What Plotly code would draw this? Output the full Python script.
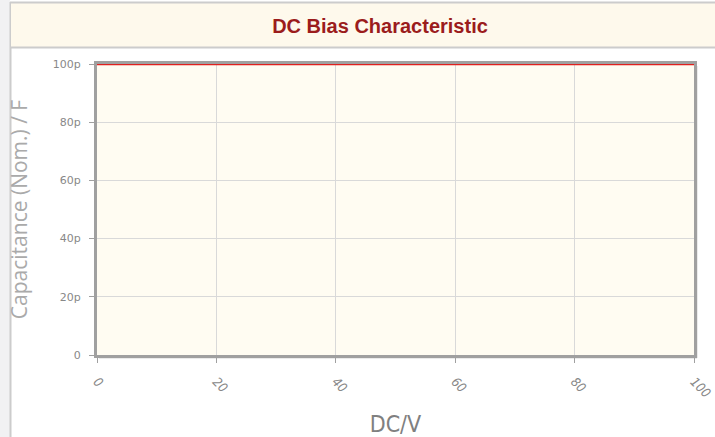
import plotly.graph_objects as go

# Data
dc_voltage = [0, 100]
capacitance_pf = [100, 100]

x_ticks = [0, 20, 40, 60, 80, 100]
y_ticks = [0, 20, 40, 60, 80, 100]
y_tick_labels = ["0", "20p", "40p", "60p", "80p", "100p"]

W, H = 715, 437
L, R, T, B = 97, 21, 64, 82
pw, ph = W - L - R, H - T - B

def px(x):
    return (x - L) / pw

def py(y):
    return (H - B - y) / ph

fig = go.Figure()
fig.add_trace(go.Scatter(
    x=dc_voltage, y=capacitance_pf, mode="lines",
    line=dict(color="#E0201F", width=2.5), showlegend=False, cliponaxis=False,
))

shapes = [
    # left page strip
    dict(type="rect", xref="paper", yref="paper", x0=px(0), x1=px(10), y0=py(H), y1=py(0),
         fillcolor="#F1F1F3", line=dict(width=0), layer="below"),
    # left border line
    dict(type="line", xref="paper", yref="paper", x0=px(10.5), x1=px(10.5), y0=py(H), y1=py(2),
         line=dict(color="#CCCCCC", width=2), layer="below"),
    # title bar
    dict(type="rect", xref="paper", yref="paper", x0=px(11), x1=px(W + 2), y0=py(47), y1=py(3),
         fillcolor="#FEF9EC", line=dict(width=0), layer="below"),
    dict(type="line", xref="paper", yref="paper", x0=px(10), x1=px(W + 2), y0=py(2.5), y1=py(2.5),
         line=dict(color="#CCCCCC", width=2), layer="below"),
    dict(type="line", xref="paper", yref="paper", x0=px(10), x1=px(W + 2), y0=py(47.5), y1=py(47.5),
         line=dict(color="#CCCCCC", width=2), layer="below"),
    # plot shadow
    dict(type="line", xref="paper", yref="paper", x0=px(L + 2), x1=px(L + pw + 3), y0=py(H - B + 2.5), y1=py(H - B + 2.5),
         line=dict(color="#D8D8D8", width=2), layer="below"),
    dict(type="line", xref="paper", yref="paper", x0=px(L + pw + 2.5), x1=px(L + pw + 2.5), y0=py(T + 2), y1=py(H - B + 3),
         line=dict(color="#D8D8D8", width=2), layer="below"),
]

fig.update_layout(
    width=W, height=H,
    margin=dict(l=L, r=R, t=T, b=B, autoexpand=False),
    paper_bgcolor="#FFFFFF",
    plot_bgcolor="#FFFCF2",
    shapes=shapes,
    title=dict(text="<b>DC Bias Characteristic</b>", xref="container", x=380 / W, xanchor="center",
               y=1 - 25.5 / H, yanchor="middle",
               font=dict(family="Liberation Sans, Arial", size=20, color="#9B1C1C")),
    xaxis=dict(
        range=[0, 100], tickvals=x_ticks, ticktext=[f"<i>{v}</i>" for v in x_ticks],
        tickangle=45, tickfont=dict(family="DejaVu Sans Condensed, DejaVu Sans", size=13, color="#888888"),
        showgrid=True, gridcolor="#D9D9D9", gridwidth=1,
        showline=True, linecolor="#A0A0A0", linewidth=3, mirror=True,
        ticks="outside", ticklen=5, tickcolor="#A0A0A0", tickwidth=1,
        zeroline=False, automargin=False, ticklabelstandoff=6,
        title=dict(text="DC/V", font=dict(family="DejaVu Sans Condensed, DejaVu Sans", size=23, color="#808080"),
                   standoff=18),
    ),
    yaxis=dict(
        range=[0, 100], tickvals=y_ticks, ticktext=y_tick_labels,
        tickfont=dict(family="DejaVu Sans, Verdana", size=11, color="#888888"),
        showgrid=True, gridcolor="#D9D9D9", gridwidth=1,
        showline=True, linecolor="#A0A0A0", linewidth=3, mirror=True,
        ticks="outside", ticklen=5, tickcolor="#A0A0A0", tickwidth=1,
        zeroline=False, automargin=False, ticklabelstandoff=6,
        title=dict(text="Capacitance (Nom.) / F", font=dict(family="Open Sans, DejaVu Sans", size=21, color="#AAAAAA"),
                   standoff=20),
    ),
)

fig.write_html("out.html", config={"displayModeBar": False},
               post_script="document.body.style.margin='0';document.body.style.overflow='hidden';")
